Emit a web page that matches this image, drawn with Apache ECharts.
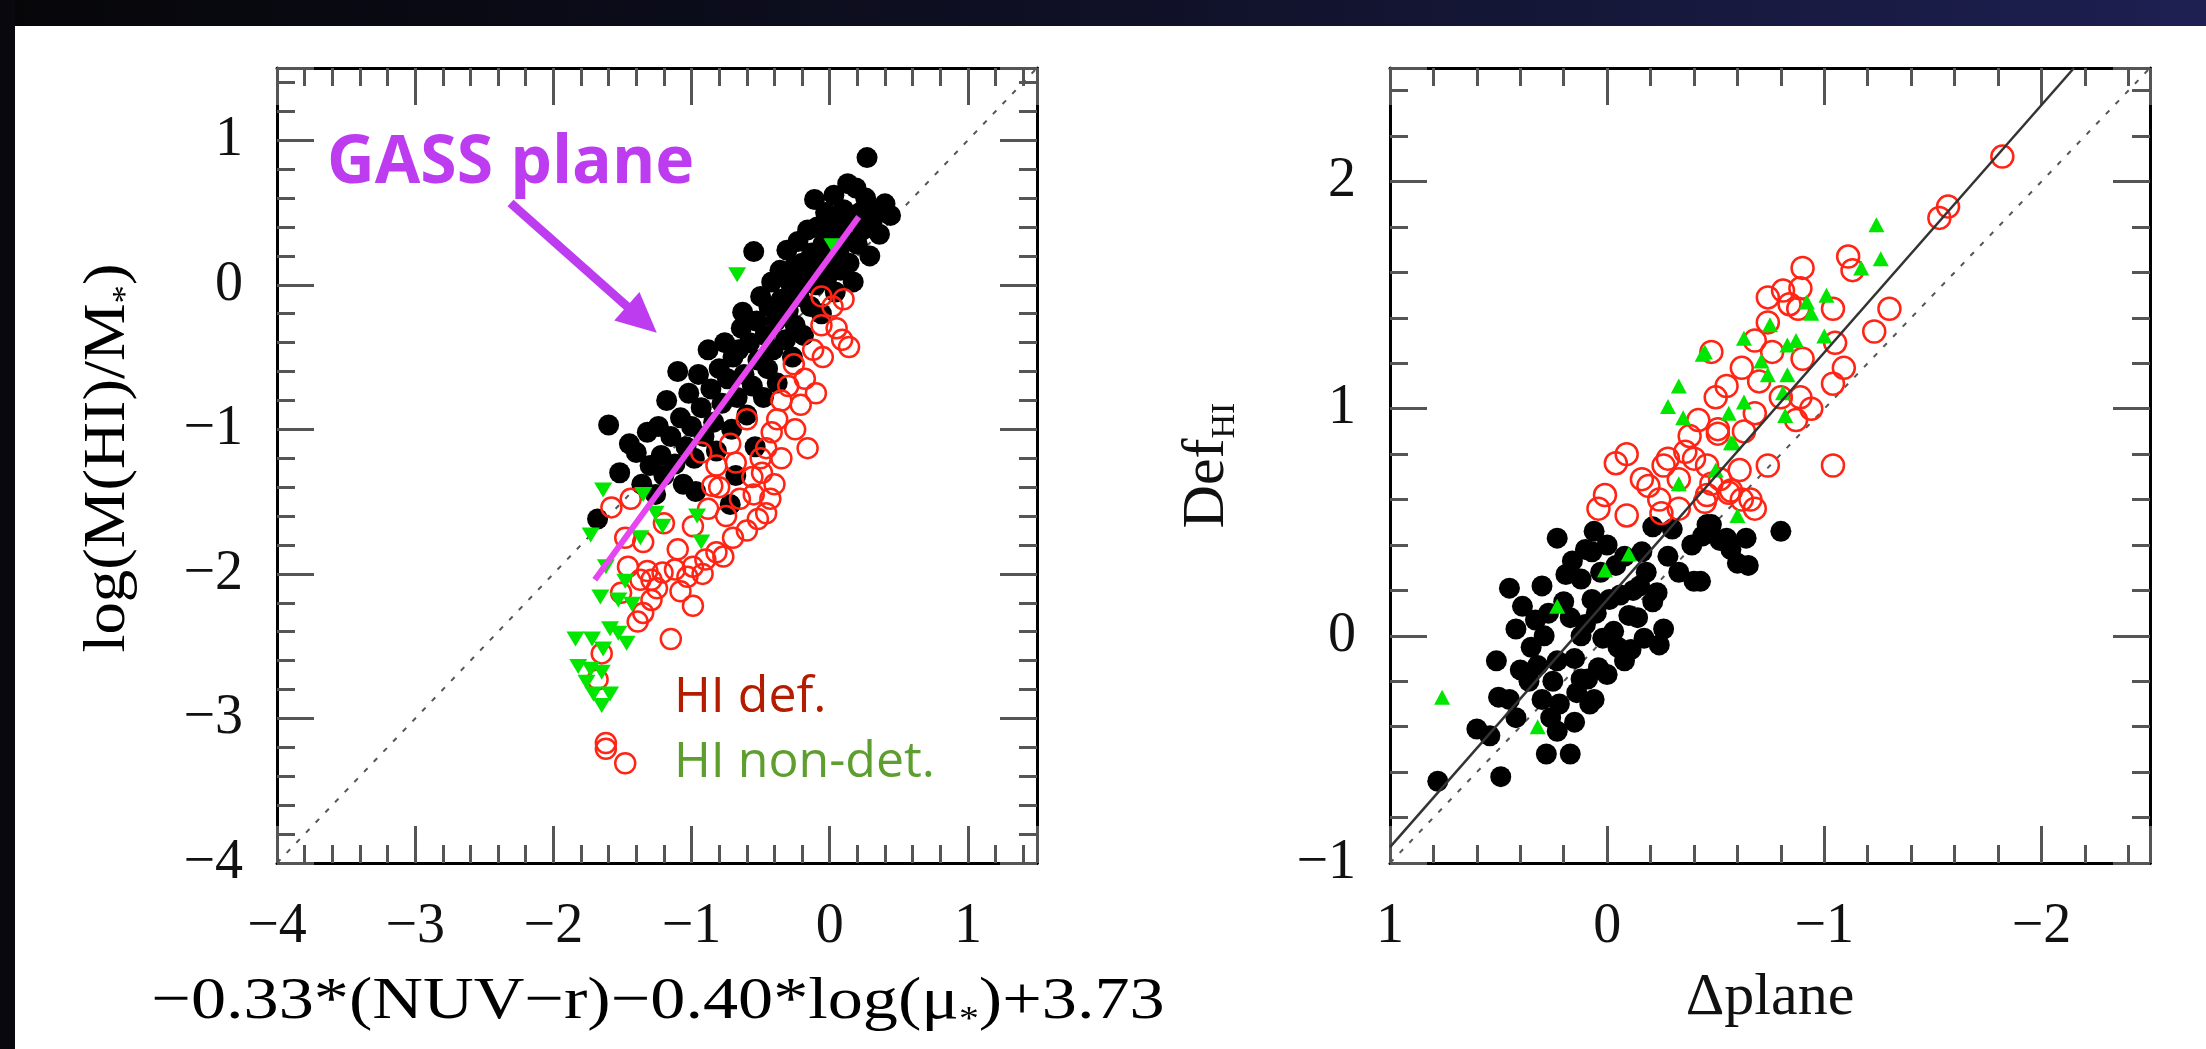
<!DOCTYPE html>
<html>
<head>
<meta charset="utf-8">
<script src="https://cdn.jsdelivr.net/npm/echarts@6/dist/echarts.min.js"></script>
<style>
  html, body { margin: 0; padding: 0; overflow: hidden; }
  body { width: 2206px; height: 1049px; position: relative; background: #fff; }
  #chart { position: absolute; left: 0; top: 0; width: 2206px; height: 1049px; }
  #band { position: absolute; left: 0; top: 0; width: 2206px; height: 26px; z-index: 5;
          background: linear-gradient(90deg, #060609 0%, #0e0f22 45%, #1d2051 100%); }
  #strip { position: absolute; left: 0; top: 0; width: 15px; height: 1049px; z-index: 5; background: #08080e; }
</style>
</head>
<body>
<div id="chart"></div>
<div id="band"></div>
<div id="strip"></div>
<script>
// left panel: log(M(HI)/M*) vs GASS plane predictor
const leftDetected = [
  [-1.68,-1.62],[-1.60,-0.97],[-1.52,-1.30],[-1.45,-1.10],[-1.40,-1.16],[-1.36,-1.38],[-1.32,-1.02],[-1.30,-1.25],
  [-1.26,-1.45],[-1.24,-0.98],[-1.22,-1.18],[-1.20,-1.32],[-1.18,-0.80],[-1.15,-1.05],[-1.12,-1.24],[-1.10,-0.60],
  [-1.08,-0.92],[-1.06,-1.38],[-1.04,-1.12],[-1.02,-0.75],[-1.00,-0.98],[-0.98,-1.20],[-0.97,-1.43],[-0.95,-0.62],
  [-0.93,-0.85],[-0.91,-1.05],[-0.88,-0.45],[-0.86,-0.72],[-0.84,-0.95],[-0.82,-1.15],[-0.80,-0.58],[-0.78,-0.82],
  [-0.76,-0.40],[-0.74,-0.65],[-0.72,-1.52],[-0.71,-1.00],[-0.70,-0.50],[-0.68,-1.32],[-0.67,-0.78],[-0.66,-0.45],
  [-0.64,-0.30],[-0.63,-0.19],[-0.62,-0.62],[-0.60,-0.90],[-0.58,-0.40],[-0.56,-0.70],[-0.55,0.23],[-0.54,-1.12],
  [-0.53,-0.25],[-0.52,-0.52],[-0.50,-0.08],[-0.48,-0.78],[-0.47,-0.35],[-0.45,-0.58],[-0.44,-0.15],[-0.42,0.02],
  [-0.41,-0.45],[-0.39,-0.25],[-0.38,-0.68],[-0.36,0.10],[-0.35,-0.10],[-0.33,0.07],[-0.32,-0.38],[-0.31,0.24],
  [-0.30,-0.18],[-0.28,0.00],[-0.27,-0.50],[-0.26,0.12],[-0.25,-0.28],[-0.23,0.30],[-0.22,-0.08],[-0.20,0.15],
  [-0.19,-0.35],[-0.17,0.05],[-0.16,0.38],[-0.14,-0.15],[-0.13,0.22],[-0.11,0.59],[-0.10,0.00],[-0.09,0.40],
  [-0.07,0.12],[-0.06,-0.20],[-0.05,0.28],[-0.03,0.50],[-0.02,0.05],[0.00,0.35],[0.01,0.18],[0.03,0.62],
  [0.04,-0.05],[0.05,0.42],[0.07,0.25],[0.08,0.10],[0.10,0.52],[0.11,0.32],[0.13,0.70],[0.14,0.15],
  [0.16,0.45],[0.17,0.02],[0.19,0.67],[0.20,0.28],[0.22,0.50],[0.24,0.38],[0.26,0.60],[0.27,0.88],
  [0.29,0.20],[0.31,0.45],[0.34,0.52],[0.36,0.35],[0.40,0.56],[0.44,0.48]
];
const leftDeficient = [
  [-1.58,-1.54],[-1.44,-1.48],[-1.48,-1.75],[-1.35,-1.78],[-1.46,-1.95],[-1.37,-2.04],[-1.29,-2.04],[-1.32,-1.98],
  [-1.51,-2.13],[-1.29,-2.18],[-1.35,-2.27],[-1.39,-2.33],[-1.15,-2.45],[-0.99,-2.22],[-1.12,-1.97],[-1.10,-1.83],
  [-0.99,-1.95],[-0.90,-1.90],[-0.82,-1.85],[-0.77,-1.88],[-0.92,-2.00],[-1.03,-2.02],[-1.21,-1.99],[-0.99,-1.67],
  [-0.88,-1.55],[-0.93,-1.16],[-0.82,-1.25],[-0.85,-1.39],[-0.68,-1.23],[-0.65,-1.48],[-0.49,-1.30],[-0.52,-1.62],
  [-0.43,-1.48],[-0.60,-0.93],[-0.42,-1.02],[-1.65,-2.55],[-1.68,-2.73],[-1.62,-3.17],[-1.62,-3.21],[-1.48,-3.31],
  [-0.26,-0.55],[-0.06,-0.28],[0.09,-0.38],[0.14,-0.43],[-0.21,-0.83],[-0.38,-0.93],[-0.16,-1.13],[-0.46,-1.13],
  [-0.56,-1.33],[-0.46,-1.58],[-0.06,-0.08],[0.02,-0.15],[-0.12,-0.45],[-0.30,-0.70],[-0.35,-1.20],[-0.25,-1.00],
  [-0.18,-0.65],[-0.05,-0.50],[0.05,-0.30],[-0.60,-1.70],[-0.70,-1.75],[-0.75,-1.60],[-0.80,-1.40],[-0.72,-1.10],
  [-0.55,-1.45],[-0.40,-1.38],[-1.20,-1.65],[-1.08,-2.12],[-1.25,-2.10],[-0.35,-0.80],[0.10,-0.10],[-0.10,-0.75],
  [-0.50,-1.20]
];
const leftNonDet = [
  [-0.67,0.07],[0.02,0.27],[-1.64,-1.42],[-1.73,-1.73],[-1.35,-1.45],[-1.26,-1.58],[-1.21,-1.67],[-1.37,-1.75],
  [-0.96,-1.60],[-0.93,-1.78],[-1.62,-1.95],[-1.48,-2.05],[-1.66,-2.16],[-1.53,-2.18],[-1.43,-2.21],[-1.84,-2.45],
  [-1.72,-2.45],[-1.59,-2.38],[-1.53,-2.41],[-1.47,-2.48],[-1.64,-2.52],[-1.82,-2.64],[-1.73,-2.66],[-1.65,-2.68],
  [-1.76,-2.75],[-1.71,-2.83],[-1.59,-2.83],[-1.65,-2.91]
];
const leftOneToOne = [[-4, -4], [1.5, 1.5]];
const gassPlane = [[-1.70, -2.04], [0.21, 0.47]];
const arrowFrom = [-2.31, 0.566];
const arrowTo = [-1.36, -0.24];

// right panel: HI deficiency vs distance from the plane
const rightDetected = [
  [0.78,-0.64],[0.49,-0.62],[0.28,-0.52],[0.17,-0.52],[0.60,-0.41],[0.54,-0.44],[0.42,-0.36],[0.23,-0.42],
  [0.15,-0.38],[0.06,-0.28],[0.30,-0.28],[0.50,-0.27],[0.45,-0.28],[0.22,-0.30],[0.51,-0.11],[0.32,-0.13],
  [0.23,-0.11],[0.15,-0.10],[0.04,-0.14],[-0.08,-0.11],[0.12,-0.19],[0.09,-0.19],[0.00,-0.17],[0.29,0.00],
  [0.42,0.03],[0.39,0.13],[0.45,0.21],[0.19,0.27],[0.17,0.08],[0.23,0.43],[0.06,0.46],[0.07,0.37],
  [0.00,0.40],[0.03,0.28],[0.07,0.16],[-0.01,0.16],[-0.03,0.02],[-0.10,0.09],[-0.17,-0.01],[-0.21,0.15],
  [-0.24,-0.04],[-0.26,0.03],[-0.23,0.19],[-0.15,0.22],[-0.21,0.48],[-0.30,0.47],[-0.16,0.37],[-0.33,0.28],
  [-0.40,0.24],[-0.46,0.49],[-0.39,0.40],[-0.55,0.43],[-0.60,0.32],[-0.04,0.31],[-0.08,0.35],[0.02,-0.01],
  [-0.11,-0.06],[0.10,0.05],[-0.80,0.46],[-0.65,0.31],[-0.64,0.43],[-0.57,0.38],[-0.52,0.42],[-0.48,0.49],
  [-0.44,0.44],[-0.43,0.24],[0.35,-0.05],[0.25,-0.20],[0.12,0.00],[0.20,0.15],[0.12,0.25],[-0.05,-0.05],
  [-0.12,0.20],[0.05,0.10],[0.14,-0.25],[0.36,-0.20],[0.27,0.10],[-0.28,0.35],[-0.18,0.28],[0.16,0.33],
  [0.33,0.07],[0.08,-0.30],[0.26,-0.36],[0.40,-0.15],[-0.14,0.08],[-0.06,0.18],[0.10,0.38],[0.30,0.22]
];
const rightDeficient = [
  [-1.82,2.11],[-1.53,1.84],[-1.57,1.89],[-1.11,1.67],[-1.13,1.61],[-0.90,1.62],[-1.30,1.44],[-1.23,1.34],
  [-0.74,1.49],[-0.81,1.52],[-0.89,1.53],[-0.84,1.46],[-0.88,1.44],[-1.04,1.44],[-0.74,1.38],[-0.68,1.30],
  [-0.48,1.25],[-0.76,1.25],[-0.90,1.22],[-1.05,1.29],[-1.09,1.18],[-1.04,1.11],[-0.80,1.05],[-0.89,1.05],
  [-0.94,1.00],[-0.87,0.95],[-0.68,0.98],[-0.51,0.91],[-0.63,0.90],[-1.04,0.75],[-0.74,0.75],[-0.61,0.73],
  [-0.52,0.69],[-0.57,0.64],[-0.46,0.62],[-0.66,0.60],[-0.68,0.56],[0.04,0.56],[0.01,0.62],[-0.09,0.53],
  [-0.04,0.76],[-0.09,0.80],[-0.16,0.69],[-0.19,0.66],[-0.26,0.75],[-0.28,0.78],[-0.33,0.69],[-0.36,0.81],
  [-0.40,0.78],[-0.24,0.60],[-0.25,0.54],[-0.33,0.56],[-0.45,0.59],[-0.48,0.67],[-0.51,0.89],[-0.56,0.63],
  [-0.62,0.60],[-0.46,0.75],[-0.42,0.95],[-0.50,1.05],[-0.38,0.88],[-0.55,1.10],[-0.70,1.12],[-0.62,1.18]
];
const rightNonDet = [
  [0.76,-0.27],[0.32,-0.40],[0.23,0.13],[0.01,0.29],[-0.10,0.36],[-0.33,0.67],[-0.50,0.73],[-0.60,0.53],
  [-0.57,0.85],[-0.28,1.01],[-0.35,0.96],[-0.56,0.98],[-0.45,1.25],[-0.63,1.31],[-0.33,1.10],[-1.24,1.81],
  [-1.26,1.66],[-1.17,1.62],[-1.01,1.50],[-0.92,1.47],[-0.94,1.42],[-0.75,1.37],[-1.00,1.32],[-0.87,1.30],
  [-0.83,1.28],[-0.71,1.21],[-0.74,1.15],[-0.83,1.15],[-0.81,1.07],[-0.63,1.03],[-0.82,0.97],[-0.58,0.85],
  [-0.44,1.24]
];
const rightOneToOne = [[1, -1], [-2.5, 2.5]];
const rightFit = [[1, -0.93], [-2.15, 2.5]];

const leftRange = [-4, 1.5];
const rightXRange = [-2.5, 1];
const rightYRange = [-1, 2.5];

const SERIF = '"Liberation Serif", "DejaVu Serif", serif';
const SANS = '"Open Sans", sans-serif';
const INK = '#111';

function tickLabel(v) {
  if (Math.abs(v - Math.round(v)) > 1e-6) return '';
  const n = Math.round(v);
  return n < 0 ? '\u2212' + (-n) : String(n);
}

function frameAxis(extra) {
  return Object.assign({
    type: 'value',
    axisLine: { show: true, onZero: false, lineStyle: { color: '#000', width: 3 } },
    axisTick: { show: true, inside: true, length: 37, lineStyle: { color: '#555', width: 3 } },
    minorTick: { show: true, splitNumber: 5, length: 18, lineStyle: { color: '#555', width: 3 } },
    splitLine: { show: false },
    minorSplitLine: { show: false },
    axisLabel: { show: false }
  }, extra);
}

const labelStyle = { show: true, formatter: tickLabel, fontFamily: SERIF, fontSize: 56, color: INK };
const nameRich = {
  t: { fontFamily: SERIF, fontSize: 60, color: INK, lineHeight: 70 },
  s: { fontFamily: SERIF, fontSize: 34, color: INK, lineHeight: 30, verticalAlign: 'bottom' }
};

const myChart = echarts.init(document.getElementById('chart'));

const option = {
  animation: false,
  backgroundColor: '#fff',
  grid: [
    { left: 277, top: 68, width: 760, height: 795 },
    { left: 1390, top: 68, width: 760, height: 795 }
  ],
  xAxis: [
    frameAxis({ gridIndex: 0, position: 'bottom', min: leftRange[0], max: leftRange[1], interval: 1,
      axisLabel: Object.assign({ margin: 36 }, labelStyle) }),
    frameAxis({ gridIndex: 0, position: 'top', min: leftRange[0], max: leftRange[1], interval: 1 }),
    frameAxis({ gridIndex: 1, position: 'bottom', min: rightXRange[0], max: rightXRange[1], splitNumber: 4, inverse: true,
      axisLabel: Object.assign({ margin: 36 }, labelStyle),
      name: '{t|\u0394plane}', nameLocation: 'middle', nameGap: 100, nameTextStyle: { rich: nameRich } }),
    frameAxis({ gridIndex: 1, position: 'top', min: rightXRange[0], max: rightXRange[1], splitNumber: 4, inverse: true })
  ],
  yAxis: [
    frameAxis({ gridIndex: 0, position: 'left', min: leftRange[0], max: leftRange[1], interval: 1,
      axisLabel: Object.assign({ margin: 34 }, labelStyle) }),
    frameAxis({ gridIndex: 0, position: 'right', min: leftRange[0], max: leftRange[1], interval: 1 }),
    frameAxis({ gridIndex: 1, position: 'left', min: rightYRange[0], max: rightYRange[1], interval: 1,
      axisLabel: Object.assign({ margin: 34 }, labelStyle),
      name: '{t|Def}{s|HI}', nameLocation: 'middle', nameGap: 148, nameTextStyle: { rich: nameRich } }),
    frameAxis({ gridIndex: 1, position: 'right', min: rightYRange[0], max: rightYRange[1], interval: 1 })
  ],
  series: [
    { name: 'one-to-one L', type: 'line', xAxisIndex: 0, yAxisIndex: 0, data: leftOneToOne, symbol: 'none', z: 2,
      lineStyle: { color: '#555', width: 2, type: [5, 9] } },
    { name: 'detected L', type: 'scatter', xAxisIndex: 0, yAxisIndex: 0, data: leftDetected, symbol: 'circle', symbolSize: 21, z: 3,
      itemStyle: { color: '#000', opacity: 1 } },
    { name: 'deficient L', type: 'scatter', xAxisIndex: 0, yAxisIndex: 0, data: leftDeficient, symbol: 'circle', symbolSize: 20, z: 4,
      itemStyle: { color: 'rgba(255,255,255,0)', borderColor: '#ff2414', borderWidth: 2.5, opacity: 1 } },
    { name: 'non-det L', type: 'scatter', xAxisIndex: 0, yAxisIndex: 0, data: leftNonDet, symbol: 'triangle', symbolRotate: 180,
      symbolSize: [18, 15], z: 5, itemStyle: { color: '#00e600', opacity: 1 } },
    { name: 'GASS plane', type: 'line', xAxisIndex: 0, yAxisIndex: 0, data: gassPlane, symbol: 'none', z: 6,
      lineStyle: { color: '#e645f0', width: 6 },
      markLine: { silent: true, symbol: ['none', 'triangle'], symbolSize: [38, 40], label: { show: false },
        lineStyle: { color: '#bd3cf0', width: 9, type: 'solid' },
        data: [[{ coord: arrowFrom }, { coord: arrowTo }]] } },

    { name: 'one-to-one R', type: 'line', xAxisIndex: 2, yAxisIndex: 2, data: rightOneToOne, symbol: 'none', z: 2,
      lineStyle: { color: '#555', width: 2, type: [5, 9] } },
    { name: 'detected R', type: 'scatter', xAxisIndex: 2, yAxisIndex: 2, data: rightDetected, symbol: 'circle', symbolSize: 21, z: 3,
      itemStyle: { color: '#000', opacity: 1 } },
    { name: 'deficient R', type: 'scatter', xAxisIndex: 2, yAxisIndex: 2, data: rightDeficient, symbol: 'circle', symbolSize: 22, z: 4,
      itemStyle: { color: 'rgba(255,255,255,0)', borderColor: '#ff2414', borderWidth: 2.5, opacity: 1 } },
    { name: 'non-det R', type: 'scatter', xAxisIndex: 2, yAxisIndex: 2, data: rightNonDet, symbol: 'triangle',
      symbolSize: [16, 15], z: 5, itemStyle: { color: '#00e600', opacity: 1 } },
    { name: 'fit R', type: 'line', xAxisIndex: 2, yAxisIndex: 2, data: rightFit, symbol: 'none', z: 6,
      lineStyle: { color: '#333', width: 2.5 } }
  ],
  graphic: [
    // axis titles of the left panel, stretched like the original lettering
    { type: 'text', x: 658, y: 1002, scaleX: 1.17, z: 10,
      style: { text: '{t|\u22120.33*(NUV\u2212r)\u22120.40*log(\u03bc}{s|*}{t|)+3.73}', rich: nameRich,
        align: 'center', verticalAlign: 'middle' } },
    { type: 'text', x: 108, y: 458, rotation: Math.PI / 2, scaleX: 1.08, z: 10,
      style: { text: '{t|log(M(HI)/M}{s|*}{t|)}', rich: nameRich, align: 'center', verticalAlign: 'middle' } },
    { type: 'text', x: 327, y: 164, z: 10,
      style: { text: 'GASS plane', fill: '#bd3cf0', fontFamily: SANS, fontWeight: 'bold', fontSize: 66, verticalAlign: 'middle' } },
    { type: 'text', x: 674, y: 698, z: 10,
      style: { text: 'HI def.', fill: '#b41c00', fontFamily: SANS, fontSize: 50, verticalAlign: 'middle' } },
    { type: 'text', x: 674, y: 763, z: 10,
      style: { text: 'HI non-det.', fill: '#5e9e2e', fontFamily: SANS, fontSize: 50, verticalAlign: 'middle' } }
  ]
};

myChart.setOption(option);

window.addEventListener('resize', () => {
  myChart.resize();
});
</script>
</body>
</html>
